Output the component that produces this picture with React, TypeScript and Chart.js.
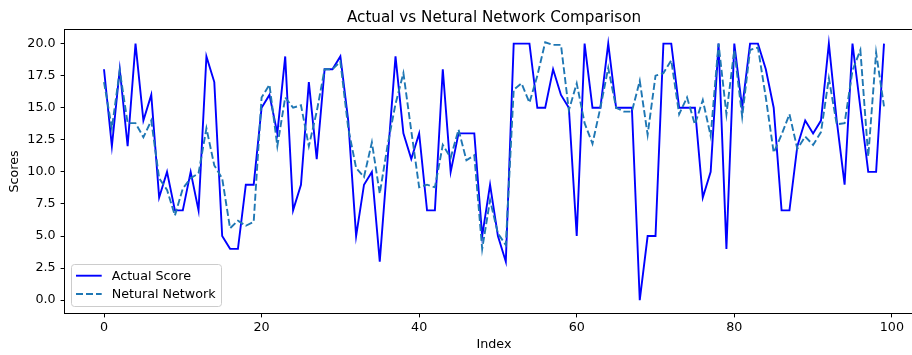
import React, { useEffect, useRef } from 'react';
import { Chart, registerables } from 'chart.js';

Chart.register(...registerables);

const indices: number[] = Array.from({ length: 100 }, (_, i) => i);

const actualScores: number[] = [
  18, 12, 18, 12, 20, 14, 16, 8, 10, 7,
  7, 10, 7, 19, 17, 5, 4, 4, 9, 9,
  15, 16, 13, 19, 7, 9, 17, 11, 18, 18,
  19, 14, 5, 9, 10, 3, 11, 19, 13, 11,
  13, 7, 7, 18, 10, 13, 13, 13, 5, 9,
  5, 3, 20, 20, 20, 15, 15, 18, 16, 15,
  5, 20, 15, 15, 20, 15, 15, 15, 0, 5,
  5, 20, 20, 15, 15, 15, 8, 10, 20, 4,
  20, 15, 20, 20, 18, 15, 7, 7, 12, 14,
  13, 14, 20, 14, 9, 20, 15, 10, 10, 20,
];

const networkScores: number[] = [
  17.0, 13.4, 17.9, 13.8, 13.8, 12.7, 14.0, 9.5, 8.6, 6.6,
  8.7, 9.5, 9.9, 13.4, 10.5, 9.5, 5.6, 6.2, 5.8, 6.1,
  15.8, 16.8, 12.0, 15.8, 15.0, 15.2, 12.0, 14.7, 18.0, 18.0,
  18.6, 13.4, 10.3, 9.6, 12.3, 8.3, 12.1, 15.3, 17.7, 13.2,
  8.8, 9.0, 8.8, 12.1, 11.1, 13.3, 10.9, 11.3, 4.0, 7.8,
  5.2, 4.3, 16.4, 16.9, 15.4, 17.5, 20.1, 19.9, 19.9, 14.8,
  16.9, 13.8, 12.2, 15.0, 18.1, 15.0, 14.7, 14.7, 17.1, 12.9,
  17.5, 17.7, 18.7, 14.5, 15.8, 13.7, 15.6, 12.8, 20.0, 14.5,
  19.5, 14.3, 19.5, 19.7, 15.8, 11.5, 12.9, 14.5, 11.8, 12.75,
  12.1, 13.1, 17.3, 13.7, 13.8, 17.9, 19.5, 11.2, 19.3, 15.1,
];

const xTicks: number[] = [0, 20, 40, 60, 80, 100];
const yTicks: number[] = [0, 2.5, 5, 7.5, 10, 12.5, 15, 17.5, 20];
const yTickLabels: string[] = ['0.0', '2.5', '5.0', '7.5', '10.0', '12.5', '15.0', '17.5', '20.0'];

const titleText = 'Actual vs Netural Network Comparison';
const xLabel = 'Index';
const yLabel = 'Scores';
const seriesNames: string[] = ['Actual Score', 'Netural Network'];
const seriesColors: string[] = ['#0000ff', '#1f77b4'];

const FAMILY = '"DejaVu Sans", sans-serif';
const TICK_SIZE = 12.7;
const TITLE_SIZE = 15.2;
const LINE_W = 1.9;
const DASH = [7, 3];

export default function App() {
  const ref = useRef<HTMLCanvasElement | null>(null);

  useEffect(() => {
    const canvas = ref.current;
    if (!canvas) return;

    const decor = {
      id: 'decor',
      afterDatasetsDraw(chart: any) {
        const { ctx, chartArea: a } = chart;
        ctx.save();
        // frame
        ctx.strokeStyle = '#000';
        ctx.lineWidth = 1;
        ctx.strokeRect(a.left - 0.5, a.top - 0.5, a.right - a.left + 1, a.bottom - a.top + 1);

        // legend
        const lx = 71.5, ly = 264.5, lw = 150, lh = 42, r = 3;
        ctx.beginPath();
        ctx.moveTo(lx + r, ly);
        ctx.lineTo(lx + lw - r, ly);
        ctx.quadraticCurveTo(lx + lw, ly, lx + lw, ly + r);
        ctx.lineTo(lx + lw, ly + lh - r);
        ctx.quadraticCurveTo(lx + lw, ly + lh, lx + lw - r, ly + lh);
        ctx.lineTo(lx + r, ly + lh);
        ctx.quadraticCurveTo(lx, ly + lh, lx, ly + lh - r);
        ctx.lineTo(lx, ly + r);
        ctx.quadraticCurveTo(lx, ly, lx + r, ly);
        ctx.closePath();
        ctx.fillStyle = 'rgba(255,255,255,0.8)';
        ctx.fill();
        ctx.strokeStyle = '#cccccc';
        ctx.lineWidth = 1;
        ctx.stroke();

        const rowsY = [275.7, 294];
        ctx.font = `${TICK_SIZE}px ${FAMILY}`;
        ctx.textBaseline = 'middle';
        ctx.textAlign = 'left';
        seriesNames.forEach((name, i) => {
          ctx.beginPath();
          ctx.setLineDash(i === 1 ? DASH : []);
          ctx.strokeStyle = seriesColors[i];
          ctx.lineWidth = LINE_W;
          ctx.moveTo(76, rowsY[i]);
          ctx.lineTo(101.7, rowsY[i]);
          ctx.stroke();
          ctx.setLineDash([]);
          ctx.fillStyle = '#000';
          ctx.fillText(name, 111.7, rowsY[i] + 0.5);
        });

        // title
        const cx = (a.left + a.right) / 2;
        ctx.font = `${TITLE_SIZE}px ${FAMILY}`;
        ctx.textAlign = 'center';
        ctx.textBaseline = 'alphabetic';
        ctx.fillStyle = '#000';
        ctx.fillText(titleText, cx, 21.5);

        // axis labels
        ctx.font = `${TICK_SIZE}px ${FAMILY}`;
        ctx.fillText(xLabel, cx, 348);
        ctx.save();
        ctx.translate(15, (a.top + a.bottom) / 2);
        ctx.rotate(-Math.PI / 2);
        ctx.textBaseline = 'middle';
        ctx.fillText(yLabel, 0, 0);
        ctx.restore();

        ctx.restore();
      },
    };

    const chart = new Chart(canvas, {
      type: 'line',
      data: {
        datasets: [
          {
            label: seriesNames[0],
            data: indices.map((x, i) => ({ x, y: actualScores[i] })),
            borderColor: seriesColors[0],
            backgroundColor: seriesColors[0],
            borderWidth: LINE_W,
            pointRadius: 0,
            tension: 0,
            fill: false,
            order: 1,
          },
          {
            label: seriesNames[1],
            data: indices.map((x, i) => ({ x, y: networkScores[i] })),
            borderColor: seriesColors[1],
            backgroundColor: seriesColors[1],
            borderWidth: LINE_W,
            borderDash: DASH,
            pointRadius: 0,
            tension: 0,
            fill: false,
            order: 0,
          },
        ],
      },
      options: {
        animation: false,
        responsive: false,
        devicePixelRatio: 1,
        layout: { padding: { top: 30, right: 17, left: 0, bottom: 0 } },
        plugins: {
          legend: { display: false },
          title: { display: false },
          tooltip: { enabled: false },
        },
        scales: {
          x: {
            type: 'linear',
            min: -4.95,
            max: 103.95,
            afterBuildTicks: (s: any) => {
              s.ticks = xTicks.map((v) => ({ value: v }));
            },
            afterFit: (s: any) => {
              s.height = 42;
            },
            ticks: {
              autoSkip: false,
              maxRotation: 0,
              padding: 3,
              color: '#000',
              font: { family: FAMILY, size: TICK_SIZE },
              callback: (v: any) => String(v),
            },
            grid: {
              drawOnChartArea: false,
              drawTicks: true,
              tickLength: 4.4,
              tickColor: '#000',
              tickWidth: 1,
            },
            border: { display: false },
          },
          y: {
            type: 'linear',
            min: -1.0,
            max: 21.06,
            afterBuildTicks: (s: any) => {
              s.ticks = yTicks.map((v) => ({ value: v }));
            },
            afterFit: (s: any) => {
              s.width = 65;
            },
            ticks: {
              autoSkip: false,
              padding: 5,
              color: '#000',
              font: { family: FAMILY, size: TICK_SIZE },
              callback: (_v: any, i: number) => yTickLabels[i],
            },
            grid: {
              drawOnChartArea: false,
              drawTicks: true,
              tickLength: 4.4,
              tickColor: '#000',
              tickWidth: 1,
            },
            border: { display: false },
          },
        },
      },
      plugins: [decor],
    } as any);

    return () => chart.destroy();
  }, []);

  return (
    <div
      style={{
        position: 'fixed',
        left: 0,
        top: 0,
        width: 912,
        height: 355,
        overflow: 'hidden',
        background: '#fff',
      }}
    >
      <div style={{ width: 940, height: 355 }}>
        <canvas ref={ref} width={940} height={355} style={{ display: 'block' }} />
      </div>
    </div>
  );
}
